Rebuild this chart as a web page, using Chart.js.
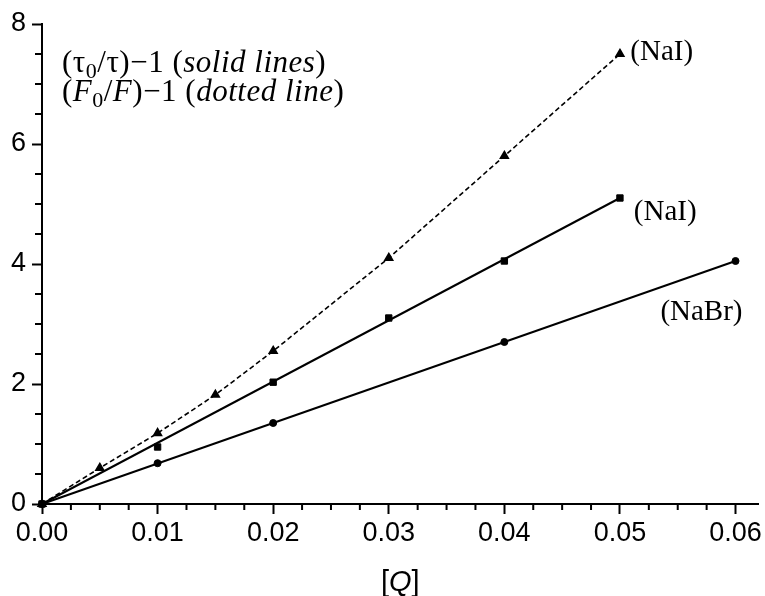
<!DOCTYPE html>
<html>
<head>
<meta charset="utf-8">
<script src="https://cdn.jsdelivr.net/npm/chart.js@4"></script>
<style>
  body { margin: 0; background: #fff; }
  #wrap { width: 765px; height: 596px; }
</style>
</head>
<body>
<div id="wrap"><canvas id="quenchChart"></canvas></div>
<script>
// (F0/F)-1, NaI  (dotted line, triangles)
const qIntensity = [0, 0.005, 0.01, 0.015, 0.02, 0.03, 0.04, 0.05];
const naiIntensity = [0, 0.6, 1.18, 1.82, 2.55, 4.1, 5.8, 7.5];
// (tau0/tau)-1, NaI  (squares)
const qNaiLife = [0, 0.01, 0.02, 0.03, 0.04, 0.05];
const naiLifetime = [0, 0.95, 2.03, 3.1, 4.05, 5.1];
// (tau0/tau)-1, NaBr  (circles)
const qNabrLife = [0, 0.01, 0.02, 0.04, 0.06];
const nabrLifetime = [0, 0.68, 1.35, 2.7, 4.05];
// straight fits drawn through the lifetime data
const naiFitQ = [0, 0.05];
const naiFitY = [0, 5.1];
const nabrFitQ = [0, 0.06];
const nabrFitY = [0, 4.05];

const xTicks = [0, 0.01, 0.02, 0.03, 0.04, 0.05, 0.06];
const yTicks = [0, 2, 4, 6, 8];

const toPts = (xs, ys) => xs.map((x, i) => ({ x: x, y: ys[i] }));

const SANS = '"Liberation Sans", Arial, sans-serif';
const SERIF = '"Liberation Serif", "Times New Roman", serif';

function drawRuns(ctx, x, y, runs, size) {
  runs.forEach(([txt, kind]) => {
    const fs = kind === 's' ? Math.round(size * 0.72) : size;
    ctx.font = (kind === 'i' ? 'italic ' : '') + fs + 'px ' + SERIF;
    ctx.fillText(txt, x, y + (kind === 's' ? size * 0.2 : 0));
    x += ctx.measureText(txt).width;
  });
}

const extras = {
  id: 'extras',
  afterDraw(chart) {
    const ctx = chart.ctx;
    const xs = chart.scales.x, ys = chart.scales.y;
    const area = chart.chartArea;
    ctx.save();
    ctx.strokeStyle = '#000';
    ctx.lineWidth = 2;
    // minor ticks
    ctx.beginPath();
    for (let i = 1; i * 0.0025 <= 0.062; i++) {
      if (i % 4 === 0) continue;
      const px = xs.getPixelForValue(i * 0.0025);
      ctx.moveTo(px, area.bottom);
      ctx.lineTo(px, area.bottom + 6);
    }
    for (let j = 1; j < 16; j++) {
      if (j % 4 === 0) continue;
      const py = ys.getPixelForValue(j * 0.5);
      ctx.moveTo(area.left, py);
      ctx.lineTo(area.left - 7, py);
    }
    ctx.stroke();

    ctx.fillStyle = '#000';
    ctx.textBaseline = 'alphabetic';
    ctx.textAlign = 'left';
    // series labels
    ctx.font = '29px ' + SERIF;
    ctx.fillText('(NaI)', xs.getPixelForValue(0.0509), ys.getPixelForValue(7.4));
    ctx.fillText('(NaI)', xs.getPixelForValue(0.0512), ys.getPixelForValue(4.73));
    ctx.fillText('(NaBr)', xs.getPixelForValue(0.0535), ys.getPixelForValue(3.07));

    // key text
    ctx.letterSpacing = '0.5px';
    drawRuns(ctx, 62, 72, [['(\u03c4', 'n'], ['0', 's'], ['/\u03c4)\u22121 (', 'n'], ['solid lines', 'i'], [')', 'n']], 31);
    drawRuns(ctx, 62, 101, [['(', 'n'], ['F', 'i'], ['0', 's'], ['/', 'n'], ['F', 'i'], [')\u22121 (', 'n'], ['dotted line', 'i'], [')', 'n']], 31);
    ctx.letterSpacing = '0px';

    // x axis title [Q]
    const parts = [['[', ''], ['Q', 'italic '], [']', '']];
    let w = 0;
    parts.forEach(([t, s]) => { ctx.font = s + '29px ' + SANS; w += ctx.measureText(t).width; });
    let tx = (area.left + area.right) / 2 - w / 2;
    parts.forEach(([t, s]) => {
      ctx.font = s + '29px ' + SANS;
      ctx.fillText(t, tx, 591);
      tx += ctx.measureText(t).width;
    });
    ctx.restore();
  }
};

new Chart(document.getElementById('quenchChart'), {
  type: 'scatter',
  data: {
    datasets: [
      {
        data: toPts(qIntensity, naiIntensity),
        showLine: true,
        borderColor: '#000',
        backgroundColor: '#000',
        borderWidth: 1.6,
        borderDash: [5, 3],
        pointStyle: 'triangle',
        pointRadius: 4.5,
        clip: false
      },
      {
        data: toPts(naiFitQ, naiFitY),
        showLine: true,
        borderColor: '#000',
        borderWidth: 2,
        pointRadius: 0,
        clip: false
      },
      {
        data: toPts(qNaiLife, naiLifetime),
        showLine: false,
        backgroundColor: '#000',
        borderColor: '#000',
        pointStyle: 'rect',
        pointRadius: 4.5,
        clip: false
      },
      {
        data: toPts(nabrFitQ, nabrFitY),
        showLine: true,
        borderColor: '#000',
        borderWidth: 2,
        pointRadius: 0,
        clip: false
      },
      {
        data: toPts(qNabrLife, nabrLifetime),
        showLine: false,
        backgroundColor: '#000',
        borderColor: '#000',
        pointStyle: 'circle',
        pointRadius: 3.5,
        clip: false
      }
    ]
  },
  options: {
    responsive: true,
    maintainAspectRatio: false,
    animation: false,
    layout: { padding: { left: 0, right: 2, top: 24, bottom: 0 } },
    plugins: { legend: { display: false }, tooltip: { enabled: false } },
    scales: {
      x: {
        type: 'linear',
        min: 0,
        max: 0.062,
        afterBuildTicks: s => { s.ticks = xTicks.map(v => ({ value: v })); },
        afterFit: s => { s.height = 92; },
        grid: { drawOnChartArea: false, tickLength: 10, tickColor: '#000', tickWidth: 2 },
        border: { display: true, color: '#000', width: 2 },
        ticks: {
          color: '#000',
          padding: 3,
          maxRotation: 0,
          font: { family: SANS, size: 27 },
          callback: v => v.toFixed(2)
        }
      },
      y: {
        type: 'linear',
        min: 0,
        max: 8,
        afterBuildTicks: s => { s.ticks = yTicks.map(v => ({ value: v })); },
        afterFit: s => { s.width = 42; },
        grid: { drawOnChartArea: false, tickLength: 10, tickColor: '#000', tickWidth: 2 },
        border: { display: true, color: '#000', width: 2 },
        ticks: {
          color: '#000',
          padding: 6,
          font: { family: SANS, size: 27 },
          callback: v => String(v)
        }
      }
    }
  },
  plugins: [extras]
});
</script>
</body>
</html>
